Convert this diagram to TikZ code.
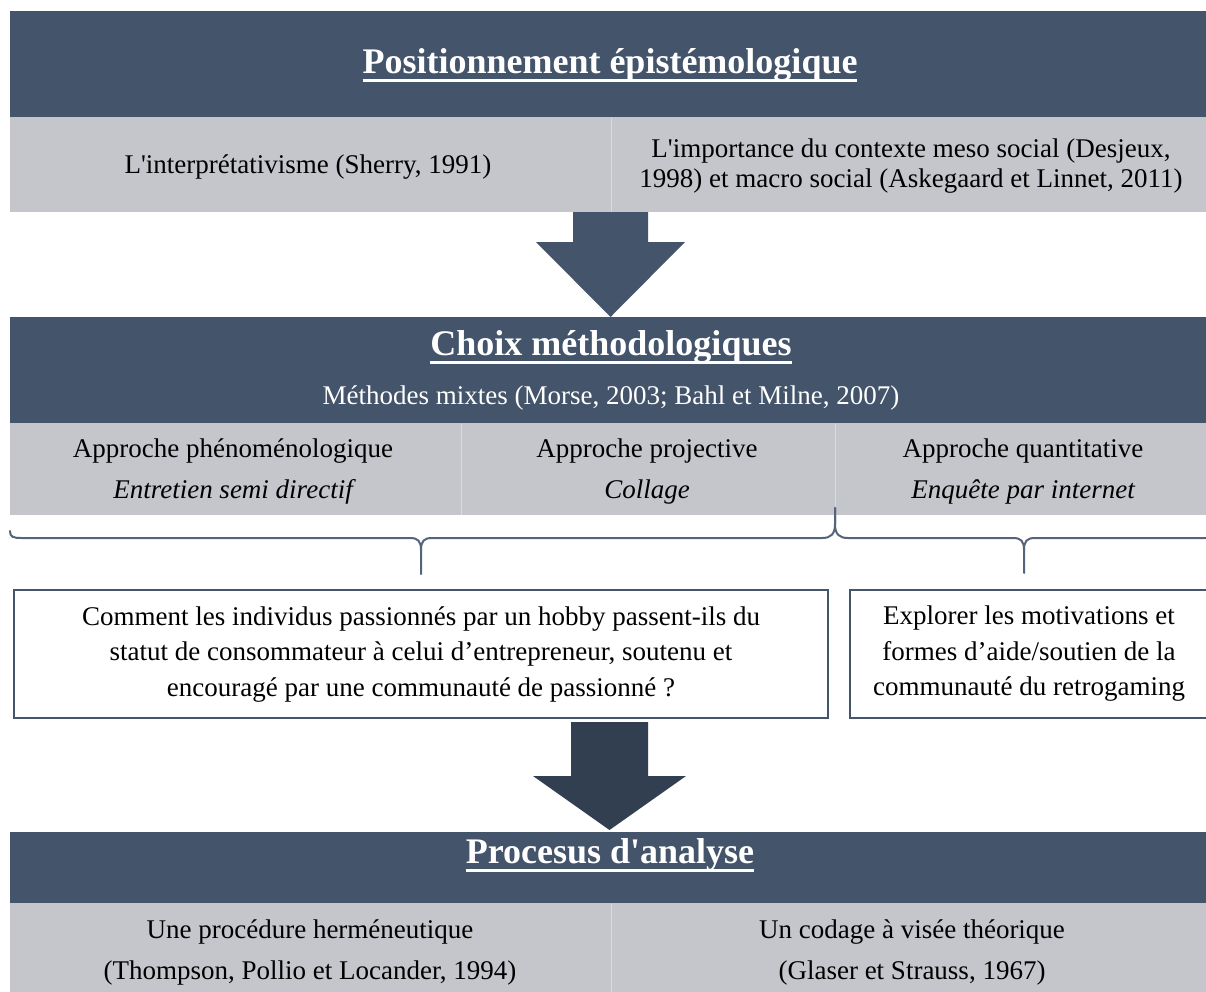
\documentclass[tikz,border=0pt]{standalone}
\usepackage{fontspec}
\setmainfont{Liberation Serif}
\definecolor{banner}{HTML}{44546A}
\definecolor{band}{HTML}{C4C6CB}
\definecolor{darkarrow}{HTML}{323F50}
\definecolor{bracecol}{HTML}{55647B}
\definecolor{divcol}{HTML}{DADBDE}
\newcommand\myul[1]{\setbox0=\hbox{#1}\rlap{\rule[-8.5pt]{\wd0}{2.5pt}}\box0}
\tikzset{
  titletext/.style={anchor=base, text=white, inner sep=0pt, font=\fontsize{36}{40}\selectfont\bfseries},
  whitetext/.style={anchor=base, text=white, inner sep=0pt, font=\fontsize{27}{32}\selectfont},
  celltext/.style={anchor=base, text=black, inner sep=0pt, font=\fontsize{27}{32}\selectfont},
  itext/.style={celltext, font=\fontsize{27}{32}\selectfont\itshape},
  bracepath/.style={draw=bracecol, line width=2pt, line cap=round, line join=round},
  boxframe/.style={draw=banner, line width=1.6pt, fill=white},
  divider/.style={draw=divcol, line width=1pt}
}
\begin{document}
\begin{tikzpicture}[x=1pt,y=-1pt]
\useasboundingbox (0,0) rectangle (1206,991);
\fill[white] (0,0) rectangle (1206,991);

% ---------- Top block ----------
\fill[banner] (10,11) rectangle (1215,117);
\fill[band] (10,117) rectangle (1215,212);
\draw[divider] (611,118) -- (611,212);
\node[titletext] (t1) at (610,73) {\myul{Positionnement épistémologique}};
\node[celltext] (c11) at (308,173) {L\textquotesingle interprétativisme (Sherry, 1991)};
\node[celltext] (c12a) at (911,157) {L\textquotesingle importance du contexte meso social (Desjeux,};
\node[celltext] (c12b) at (911,187) {1998) et macro social (Askegaard et Linnet, 2011)};

% arrow 1
\fill[banner] (573,212) -- (648,212) -- (648,242) -- (685,242) -- (610.5,317) -- (536,242) -- (573,242) -- cycle;

% ---------- Middle block ----------
\fill[banner] (10,317) rectangle (1215,423);
\fill[band] (10,423) rectangle (1215,515);
\draw[divider] (461,424) -- (461,515);
\draw[divider] (835,424) -- (835,515);
\node[titletext] (t2) at (611,355) {\myul{Choix méthodologiques}};
\node[whitetext] (s2) at (611,404) {Méthodes mixtes (Morse, 2003; Bahl et Milne, 2007)};
\node[celltext] (a1) at (233,457) {Approche phénoménologique};
\node[celltext] (a2) at (647,457) {Approche projective};
\node[celltext] (a3) at (1023,457) {Approche quantitative};
\node[itext] (b1) at (233,498) {Entretien semi directif};
\node[itext] (b2) at (647,498) {Collage};
\node[itext] (b3) at (1023,498) {Enquête par internet};

% braces
\coordinate (bl) at (10,531);
\coordinate (btip1) at (421,574);
\coordinate (bmid) at (835,508);
\coordinate (btip2) at (1024,573);
\draw[bracepath] (bl) .. controls (10,537) and (13,538) .. (22,538) -- (410,538)
  .. controls (418,538) and (421,541) .. (421,550) -- (btip1);
\draw[bracepath] (421,550) .. controls (421,541) and (424,538) .. (432,538) -- (822,538)
  .. controls (831,538) and (835,534) .. (835,524) -- (bmid);
\draw[bracepath] (bmid) -- (835,524) .. controls (835,534) and (839,538) .. (848,538) -- (1013,538)
  .. controls (1021,538) and (1024,541) .. (1024,550) -- (btip2);
\draw[bracepath] (1024,550) .. controls (1024,541) and (1027,538) .. (1035,538) -- (1215,538);

% boxes
\draw[boxframe] (14,590) rectangle (828,718);
\draw[boxframe] (850,590) rectangle (1220,718);
\node[celltext] (q1) at (421,625) {Comment les individus passionnés par un hobby passent-ils du};
\node[celltext] (q2) at (421,660) {statut de consommateur à celui d’entrepreneur, soutenu et};
\node[celltext] (q3) at (421,696) {encouragé par une communauté de passionné ?};
\node[celltext] (e1) at (1029,624) {Explorer les motivations et};
\node[celltext] (e2) at (1029,660) {formes d’aide/soutien de la};
\node[celltext] (e3) at (1029,695) {communauté du retrogaming};

% arrow 2
\fill[darkarrow] (571,722) -- (648,722) -- (648,776) -- (686,776) -- (609.5,830) -- (533,776) -- (571,776) -- cycle;

% ---------- Bottom block ----------
\fill[banner] (10,832) rectangle (1215,903);
\fill[band] (10,903) rectangle (1215,995);
\draw[divider] (611,904) -- (611,995);
\node[titletext] (t3) at (610,863) {\myul{Procesus d\textquotesingle analyse}};
\node[celltext] (p1) at (310,938) {Une procédure herméneutique};
\node[celltext] (p2) at (310,979) {(Thompson, Pollio et Locander, 1994)};
\node[celltext] (g1) at (912,938) {Un codage à visée théorique};
\node[celltext] (g2) at (912,979) {(Glaser et Strauss, 1967)};
\end{tikzpicture}
\end{document}
